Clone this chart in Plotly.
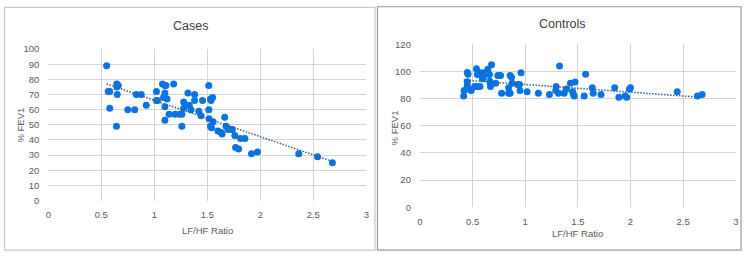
import numpy as np
import plotly.graph_objects as go

# ---- data ----
cases_lfhf = [0.55, 0.565, 0.58, 0.58, 0.646, 0.66, 0.646, 0.65, 0.643, 0.75, 0.815, 0.83, 0.877, 0.924,
              1.02, 1.02, 1.03, 1.077, 1.10, 1.11, 1.10, 1.087, 1.12, 1.10, 1.10, 1.14, 1.183, 1.196, 1.24,
              1.26, 1.26, 1.277, 1.277, 1.317, 1.33, 1.346, 1.38, 1.38, 1.42, 1.44, 1.455, 1.514, 1.514,
              1.517, 1.53, 1.55, 1.536, 1.555, 1.53, 1.54, 1.60, 1.63, 1.64, 1.664, 1.677, 1.695, 1.72,
              1.736, 1.76, 1.767, 1.795, 1.814, 1.855, 1.917, 1.973, 2.363, 2.54, 2.68]
cases_fev1 = [89, 72, 72, 61, 77, 76, 75, 70, 49, 60, 60, 70, 70, 63,
              72, 66, 66, 77, 76, 76, 71, 68, 67, 62, 53, 57, 77, 57, 57,
              57, 49, 65, 61, 71, 63, 60, 70, 66, 59, 56, 66, 76, 60,
              54, 67, 68, 66, 52, 49, 48, 46, 45, 44, 55, 49, 47, 47,
              47, 43, 35, 34, 41, 41, 31, 32, 31, 29, 25]

ctrl_lfhf = [0.415, 0.42, 0.45, 0.457, 0.45, 0.45, 0.46, 0.487, 0.537, 0.546, 0.52, 0.546, 0.57, 0.565,
             0.584, 0.597, 0.594, 0.603, 0.645, 0.66, 0.663, 0.67, 0.67, 0.68, 0.72, 0.74, 0.766, 0.776,
             0.842, 0.842, 0.857, 0.857, 0.87, 0.876, 0.927, 0.946, 0.95, 0.96, 1.018, 1.125, 1.23, 1.29,
             1.294, 1.316, 1.326, 1.37, 1.39, 1.43, 1.45, 1.458, 1.467, 1.473, 1.56, 1.574, 1.637, 1.646,
             1.72, 1.85, 1.89, 1.95, 1.964, 1.99, 2.0, 2.444, 2.636, 2.68]
ctrl_fev1 = [82, 86, 99.3, 98, 92.5, 89.5, 87, 86, 102, 97.7, 89, 89, 89, 99,
             97, 99, 94.6, 96, 101.7, 97.7, 92.8, 91.4, 89, 105, 91.4, 97, 97, 84,
             88, 84, 84, 97, 95.8, 91.4, 90.4, 90.4, 86, 99, 85, 84, 83, 86,
             89, 84, 104, 84, 87, 91.4, 85, 83, 82, 92.3, 82, 98, 88, 84,
             83, 88, 81, 82, 81, 87, 88, 85, 82, 83]

x_ticks = [0, 0.5, 1, 1.5, 2, 2.5, 3]
x_tick_text = ["0", "0.5", "1", "1.5", "2", "2.5", "3"]
cases_yticks = list(range(0, 101, 10))
ctrl_yticks = list(range(0, 121, 20))

MARK = "#0b72e2"
TREND = "#2f5f9f"
GRID = "#d4d4d4"
FONT = "Liberation Sans"

fig = go.Figure()

def add_panel(xs, ys, xa, ya):
    fig.add_trace(go.Scatter(x=xs, y=ys, mode="markers", xaxis=xa, yaxis=ya,
                             marker=dict(color=MARK, size=7, line=dict(width=0)),
                             showlegend=False, hoverinfo="x+y"))
    m, b = np.polyfit(xs, ys, 1)
    x0, x1 = min(xs), max(xs)
    fig.add_trace(go.Scatter(x=[x0, x1], y=[m * x0 + b, m * x1 + b], mode="lines",
                             xaxis=xa, yaxis=ya, line=dict(color=TREND, width=1.5, dash="1.5px,1.5px"),
                             showlegend=False, hoverinfo="skip"))

add_panel(cases_lfhf, cases_fev1, "x", "y")
add_panel(ctrl_lfhf, ctrl_fev1, "x2", "y2")

axis_common = dict(showgrid=True, gridcolor=GRID, gridwidth=1.4, zeroline=False,
                   showline=False, ticks="", tickfont=dict(family=FONT, size=9.5, color="#595959"))

def ann(text, x, y, size, color, angle=0):
    return dict(text=text, x=x / 750, y=1 - y / 257, xref="paper", yref="paper", showarrow=False,
                xanchor="center", yanchor="middle", textangle=angle,
                font=dict(family=FONT, size=size, color=color))

fig.update_layout(
    width=750, height=257,
    margin=dict(l=0, r=0, t=0, b=0),
    paper_bgcolor="white", plot_bgcolor="white",
    xaxis=dict(domain=[0.0609, 0.4883], range=[0, 3], tickvals=x_ticks, ticktext=x_tick_text,
               anchor="y", ticklabelstandoff=7, **axis_common),
    yaxis=dict(domain=[0.2089, 0.8249], range=[0, 100], tickvals=cases_yticks,
               anchor="x", ticklabelstandoff=8, **axis_common),
    xaxis2=dict(domain=[0.5604, 0.9849], range=[0, 3], tickvals=x_ticks, ticktext=x_tick_text,
                anchor="y2", ticklabelstandoff=7, **axis_common),
    yaxis2=dict(domain=[0.1817, 0.8444], range=[0, 120], tickvals=ctrl_yticks,
                anchor="x2", ticklabelstandoff=8, **axis_common),
    shapes=[
        dict(type="rect", xref="paper", yref="paper", x0=1.5/750, x1=375/750, y0=1-255/257, y1=1-1.5/257,
             line=dict(color="#c8c8c8", width=1.2)),
        dict(type="rect", xref="paper", yref="paper", x0=377.5/750, x1=744/750, y0=1-255/257, y1=1-0.8/257,
             line=dict(color="#9a9a9a", width=1.2)),
    ],
    annotations=[
        ann("Cases", 189, 21, 12.5, "#404040"),
        ann("Controls", 564, 19, 12.5, "#404040"),
        ann("LF/HF Ratio", 206, 235, 9.5, "#595959"),
        ann("LF/HF Ratio", 579, 238, 9.5, "#595959"),
        ann("% FEV1", 18, 124, 9.5, "#595959", -90),
        ann("% FEV1", 395, 127, 9.5, "#595959", -90),
    ],
)

fig.write_html("out.html")
